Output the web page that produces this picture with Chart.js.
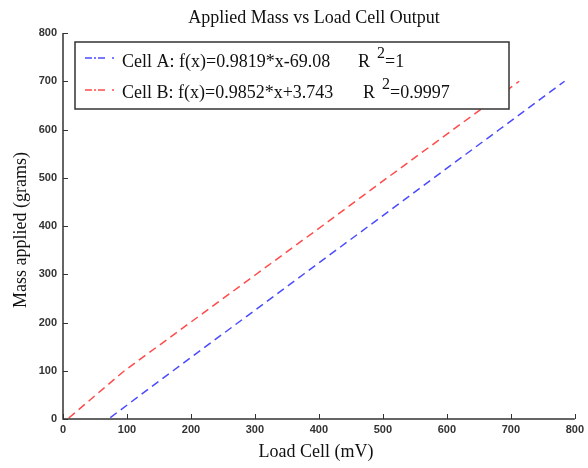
<!DOCTYPE html>
<html>
<head>
<meta charset="utf-8">
<script src="https://cdn.jsdelivr.net/npm/chart.js@4"></script>
<style>
  html, body { margin: 0; padding: 0; background: #fff; }
  #wrap { width: 588px; height: 468px; }
</style>
</head>
<body>
<div id="wrap"><canvas id="chart" width="588" height="468"></canvas></div>
<script>
// values
var xTicks = [0, 100, 200, 300, 400, 500, 600, 700, 800];
var yTicks = [0, 100, 200, 300, 400, 500, 600, 700, 800];

var cellAmV = [74, 172, 274, 376, 478, 580, 682, 784];
var cellAMass = [3, 100, 200, 300, 400, 500, 600, 700];
var cellBmV = [9, 96, 199, 302, 405, 507, 610, 713];
var cellBMass = [2, 100, 200, 300, 400, 500, 600, 700];

var titleText = "Applied Mass vs Load Cell Output";
var xTitle = "Load Cell (mV)";
var yTitle = "Mass applied (grams)";
var legendFits = ["Cell A: f(x)=0.9819*x-69.08", "Cell B: f(x)=0.9852*x+3.743"];
var legendR2 = ["=1", "=0.9997"];

var BLUE = "#4b4bff";
var RED = "#ff4b4b";
var SERIF = "'Liberation Serif', 'Times New Roman', serif";
var SANS = "'Liberation Sans', Arial, sans-serif";

function pairs(xs, ys) {
  return xs.map(function (x, i) { return { x: x, y: ys[i] }; });
}

// MATLAB-like decorations: inward ticks, title, axis titles, legend box
var matlabLook = {
  id: "matlabLook",
  afterDraw: function (chart) {
    var ctx = chart.ctx;
    var a = chart.chartArea;
    var xs = chart.scales.x, ys = chart.scales.y;
    ctx.save();

    // axes lines and inward ticks
    ctx.strokeStyle = "#333";
    ctx.lineWidth = 1.5;
    ctx.beginPath();
    ctx.moveTo(a.left, a.top);
    ctx.lineTo(a.left, a.bottom);
    ctx.lineTo(a.right, a.bottom);
    ctx.stroke();
    ctx.lineWidth = 1;
    ctx.beginPath();
    xTicks.forEach(function (v) {
      var px = Math.round(xs.getPixelForValue(v)) + 0.5;
      ctx.moveTo(px, a.bottom);
      ctx.lineTo(px, a.bottom - 5);
    });
    yTicks.forEach(function (v) {
      var py = Math.round(ys.getPixelForValue(v)) + 0.5;
      ctx.moveTo(a.left, py);
      ctx.lineTo(a.left + 5, py);
    });
    ctx.stroke();

    // titles
    ctx.fillStyle = "#111";
    ctx.font = "18px " + SERIF;
    ctx.textAlign = "center";
    ctx.textBaseline = "middle";
    ctx.fillText(titleText, 314, 18);
    ctx.fillText(xTitle, 316, 452);
    ctx.save();
    ctx.translate(21, 230);
    ctx.rotate(-Math.PI / 2);
    ctx.fillText(yTitle, 0, 0);
    ctx.restore();

    // legend box
    var bx = 75, by = 42, bw = 434, bh = 67;
    ctx.fillStyle = "#fff";
    ctx.fillRect(bx, by, bw, bh);
    ctx.strokeStyle = "#333";
    ctx.lineWidth = 1.5;
    ctx.strokeRect(bx, by, bw, bh);
    var rows = [62, 93];
    var lineY = [58, 90];
    var colors = [BLUE, RED];
    var rX = [358, 363];
    rows.forEach(function (ry, i) {
      ctx.strokeStyle = colors[i];
      ctx.lineWidth = 1.5;
      ctx.setLineDash([7, 2, 2, 2, 7]);
      ctx.beginPath();
      ctx.moveTo(85, lineY[i]);
      ctx.lineTo(114, lineY[i]);
      ctx.stroke();
      ctx.setLineDash([]);
      ctx.fillStyle = "#111";
      ctx.textAlign = "left";
      ctx.font = "18px " + SERIF;
      ctx.fillText(legendFits[i], 122, ry);
      ctx.fillText("R", rX[i], ry);
      ctx.font = "16px " + SERIF;
      ctx.fillText("2", rX[i] + 19, ry - 8);
      ctx.font = "18px " + SERIF;
      ctx.fillText(legendR2[i], rX[i] + 27, ry);
    });
    ctx.restore();
  }
};

new Chart(document.getElementById("chart"), {
  type: "line",
  data: {
    datasets: [
      {
        label: legendFits[0],
        data: pairs(cellAmV, cellAMass),
        borderColor: BLUE,
        borderWidth: 1.5,
        borderDash: [8, 5],
        pointRadius: 0,
        fill: false,
        tension: 0
      },
      {
        label: legendFits[1],
        data: pairs(cellBmV, cellBMass),
        borderColor: RED,
        borderWidth: 1.5,
        borderDash: [8, 5],
        pointRadius: 0,
        fill: false,
        tension: 0
      }
    ]
  },
  options: {
    responsive: false,
    animation: false,
    layout: { padding: { top: 33, right: 11, left: 0, bottom: 0 } },
    plugins: {
      legend: { display: false },
      title: { display: false },
      tooltip: { enabled: false }
    },
    scales: {
      x: {
        type: "linear",
        min: 0,
        max: 800,
        afterBuildTicks: function (s) { s.ticks = xTicks.map(function (v) { return { value: v }; }); },
        afterFit: function (s) { s.height = 49; },
        grid: { display: false, drawTicks: false },
        border: { display: false },
        ticks: {
          padding: 4,
          color: "#333",
          font: { family: SANS, size: 11, weight: "bold" },
          maxRotation: 0
        }
      },
      y: {
        type: "linear",
        min: 0,
        max: 800,
        afterBuildTicks: function (s) { s.ticks = yTicks.map(function (v) { return { value: v }; }); },
        afterFit: function (s) { s.width = 63; },
        grid: { display: false, drawTicks: false },
        border: { display: false },
        ticks: {
          padding: 6,
          color: "#333",
          font: { family: SANS, size: 11, weight: "bold" }
        }
      }
    }
  },
  plugins: [matlabLook]
});
</script>
</body>
</html>
